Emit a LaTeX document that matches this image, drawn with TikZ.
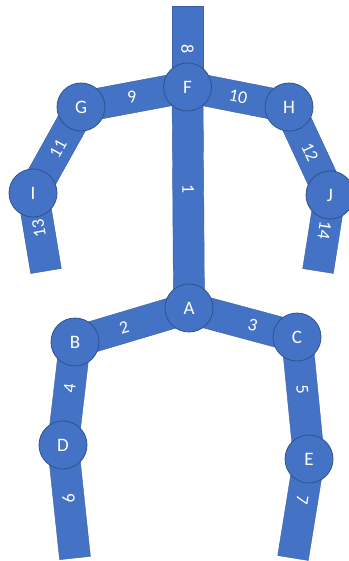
\documentclass[tikz,border=0pt]{standalone}
\usepackage{fontspec}
\setmainfont{Carlito}
\usetikzlibrary{calc,backgrounds,positioning}
\definecolor{boneblue}{HTML}{4472C4}
\definecolor{jointedge}{HTML}{2F528F}

% one limb of the skeleton: bar from #1 to #2, label #3 at pos #4
\newcommand{\limb}[4]{%
  \begin{scope}[on background layer]
    \draw[bone] ($(#1)!15.5pt!90:(#2)$) -- ($(#2)!15.5pt!-90:(#1)$)
      -- ($(#2)!15.5pt!90:(#1)$) -- ($(#1)!15.5pt!-90:(#2)$) -- cycle;
  \end{scope}
  \path (#1.center) -- node[num, pos=#4, sloped, allow upside down] {#3} (#2.center);
}

\begin{document}
\begin{tikzpicture}[x=1pt,y=-1pt]
  \tikzset{
    joint/.style={circle, fill=boneblue, draw=jointedge, line width=0.8pt, minimum size=48pt, inner sep=0pt, text=white, font=\fontsize{19}{19}\selectfont},
    bone/.style={fill=boneblue, draw=boneblue!85!black, line width=0.4pt},
    num/.style={text=white, font=\fontsize{18}{18}\selectfont, inner sep=0pt}
  }
  \useasboundingbox (0,0) rectangle (348,561);

  % joints
  \node[joint] (F) at (187.5,87) {F};
  \node[joint] (G) at (81,107) {G};
  \node[joint] (H) at (289,107) {H};
  \node[joint] (I) at (33,193) {I};
  \node[joint] (J) at (330,195) {J};
  \node[joint] (A) at (189,308) {A};
  \node[joint] (B) at (75,342) {B};
  \node[joint] (C) at (297,337) {C};
  \node[joint] (D) at (63,445) {D};
  \node[joint] (E) at (309,459) {E};

  % free ends
  \coordinate (head) at (187.5,6);
  \coordinate (handL) at (46,271);
  \coordinate (handR) at (318,271);
  \coordinate (footL) at (75,558);
  \coordinate (footR) at (293,558);

  % spine
  \limb{head}{F}{8}{0.53}
  \limb{F}{A}{1}{0.46}

  % arms
  \limb{G}{F}{9}{0.48}
  \limb{F}{H}{10}{0.5}
  \limb{I}{G}{11}{0.52}
  \limb{H}{J}{12}{0.51}
  \limb{handL}{I}{13}{0.54}
  \limb{J}{handR}{14}{0.46}

  % legs
  \limb{B}{A}{2}{0.43}
  \limb{A}{C}{3}{0.59}
  \limb{D}{B}{4}{0.55}
  \limb{C}{E}{5}{0.43}
  \limb{footL}{D}{6}{0.53}
  \limb{E}{footR}{7}{0.41}
\end{tikzpicture}
\end{document}
